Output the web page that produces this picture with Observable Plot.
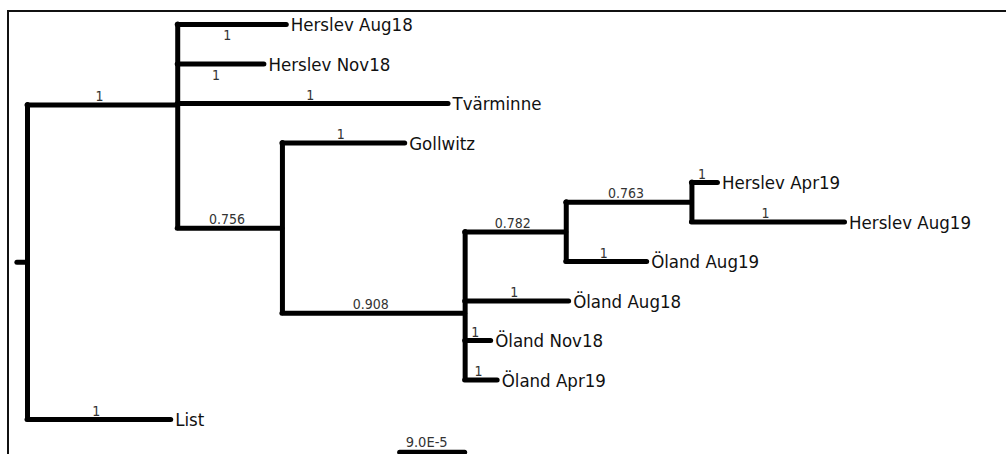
<!DOCTYPE html>
<html>
<head>
<meta charset="utf-8">
<script src="https://cdn.jsdelivr.net/npm/d3@7"></script>
<script src="https://cdn.jsdelivr.net/npm/@observablehq/plot@0.6"></script>
<style>
  html, body { margin: 0; padding: 0; background: #fff; }
  #wrap { position: relative; width: 1006px; height: 454px; overflow: hidden; background: #fff; }
  #frame { position: absolute; left: 7px; top: 10px; width: 1100px; height: 600px; border: 2px solid #111; box-sizing: border-box; pointer-events: none; }
  #wrap svg { position: absolute; left: 0; top: 0; }
</style>
</head>
<body>
<div id="wrap"><div id="frame"></div></div>
<script>
// Tree topology (node, parent), branch lengths in units of 1e-5 substitutions/site, support values
const nodes = ["root", "A", "Herslev Aug18", "Herslev Nov18", "Tvärminne", "B", "Gollwitz", "C", "D", "E",
  "Herslev Apr19", "Herslev Aug19", "Öland Aug19", "Öland Aug18", "Öland Nov18", "Öland Apr19", "List"];
const parents = [null, "root", "A", "A", "A", "A", "B", "B", "C", "D", "E", "E", "D", "C", "C", "C", "root"];
const branchLengths = [1.4, 20.8, 15.1, 12.0, 37.5, 14.5, 17.0, 25.3, 14.0, 17.4, 3.6, 21.2, 11.2, 14.4, 3.6, 4.5, 19.9];
const supports = [null, 1, 1, 1, 1, 0.756, 1, 0.908, 0.782, 0.763, 1, 1, 1, 1, 1, 1, 1];
const scaleBarLength = 9.0;          // in 1e-5 units
const scaleBarLabel = "9.0E-5";

// Build tree
const byName = new Map(nodes.map((n, i) => [n, {name: n, parent: parents[i], len: branchLengths[i], support: supports[i], children: []}]));
for (const n of byName.values()) if (n.parent) byName.get(n.parent).children.push(n);
const root = byName.get("root");
let leafIndex = 0;
(function layout(n, px) {
  n.px = px;
  n.x = px + n.len;
  n.children.forEach(c => layout(c, n.x));
  if (n.children.length === 0) n.y = leafIndex++;
  else n.y = d3.mean(n.children, c => c.y);
})(root, -root.len);

const all = [...byName.values()];
const internals = all.filter(n => n.children.length);
const leaves = all.filter(n => !n.children.length);
const verts = internals.map(n => ({x: n.x, y1: d3.min(n.children, c => c.y), y2: d3.max(n.children, c => c.y)}));
const belowLabels = new Set(["Herslev Aug18", "Herslev Nov18"]);
const supported = all.filter(n => n.support != null);
const fmt = v => String(v);

const nodeC = byName.get("C");
const bar = [{x1: nodeC.x - scaleBarLength, x2: nodeC.x, y: 10.83}];

const font = "'DejaVu Sans Condensed', 'DejaVu Sans', Verdana, sans-serif";
const chart = Plot.plot({
  width: 1006,
  height: 454,
  margin: 0,
  style: {fontFamily: font, background: "transparent"},
  x: {domain: [0, 100], range: [27, 749.2], axis: null},
  y: {domain: [0, 10], range: [24, 419], axis: null},
  marks: [
    Plot.ruleY(all, {x1: "px", x2: "x", y: "y", stroke: "#000", strokeWidth: 5, strokeLinecap: "round"}),
    Plot.ruleX(verts, {x: "x", y1: "y1", y2: "y2", stroke: "#000", strokeWidth: 5, strokeLinecap: "round"}),
    Plot.text(leaves, {x: "x", y: "y", text: "name", textAnchor: "start", dx: 4, dy: 1, fontSize: 18.5, fill: "#111"}),
    Plot.text(supported.filter(n => !belowLabels.has(n.name)), {
      x: n => (n.px + n.x) / 2, y: "y", text: n => fmt(n.support), textAnchor: "middle",
      lineAnchor: "bottom", dx: -3, dy: -4, fontSize: 14, fill: "#333"}),
    Plot.text(supported.filter(n => belowLabels.has(n.name)), {
      x: n => (n.px + n.x) / 2, y: "y", text: n => fmt(n.support), textAnchor: "middle",
      lineAnchor: "top", dx: -5, dy: 6, fontSize: 14, fill: "#333"}),
    Plot.ruleY(bar, {x1: "x1", x2: "x2", y: "y", stroke: "#000", strokeWidth: 5, strokeLinecap: "round"}),
    Plot.text(bar, {x: d => (d.x1 + d.x2) / 2, y: "y", text: () => scaleBarLabel, textAnchor: "middle",
      lineAnchor: "bottom", dx: -6, dy: -5, fontSize: 14.5, fill: "#333"})
  ]
});
document.getElementById("wrap").appendChild(chart);
</script>
</body>
</html>
